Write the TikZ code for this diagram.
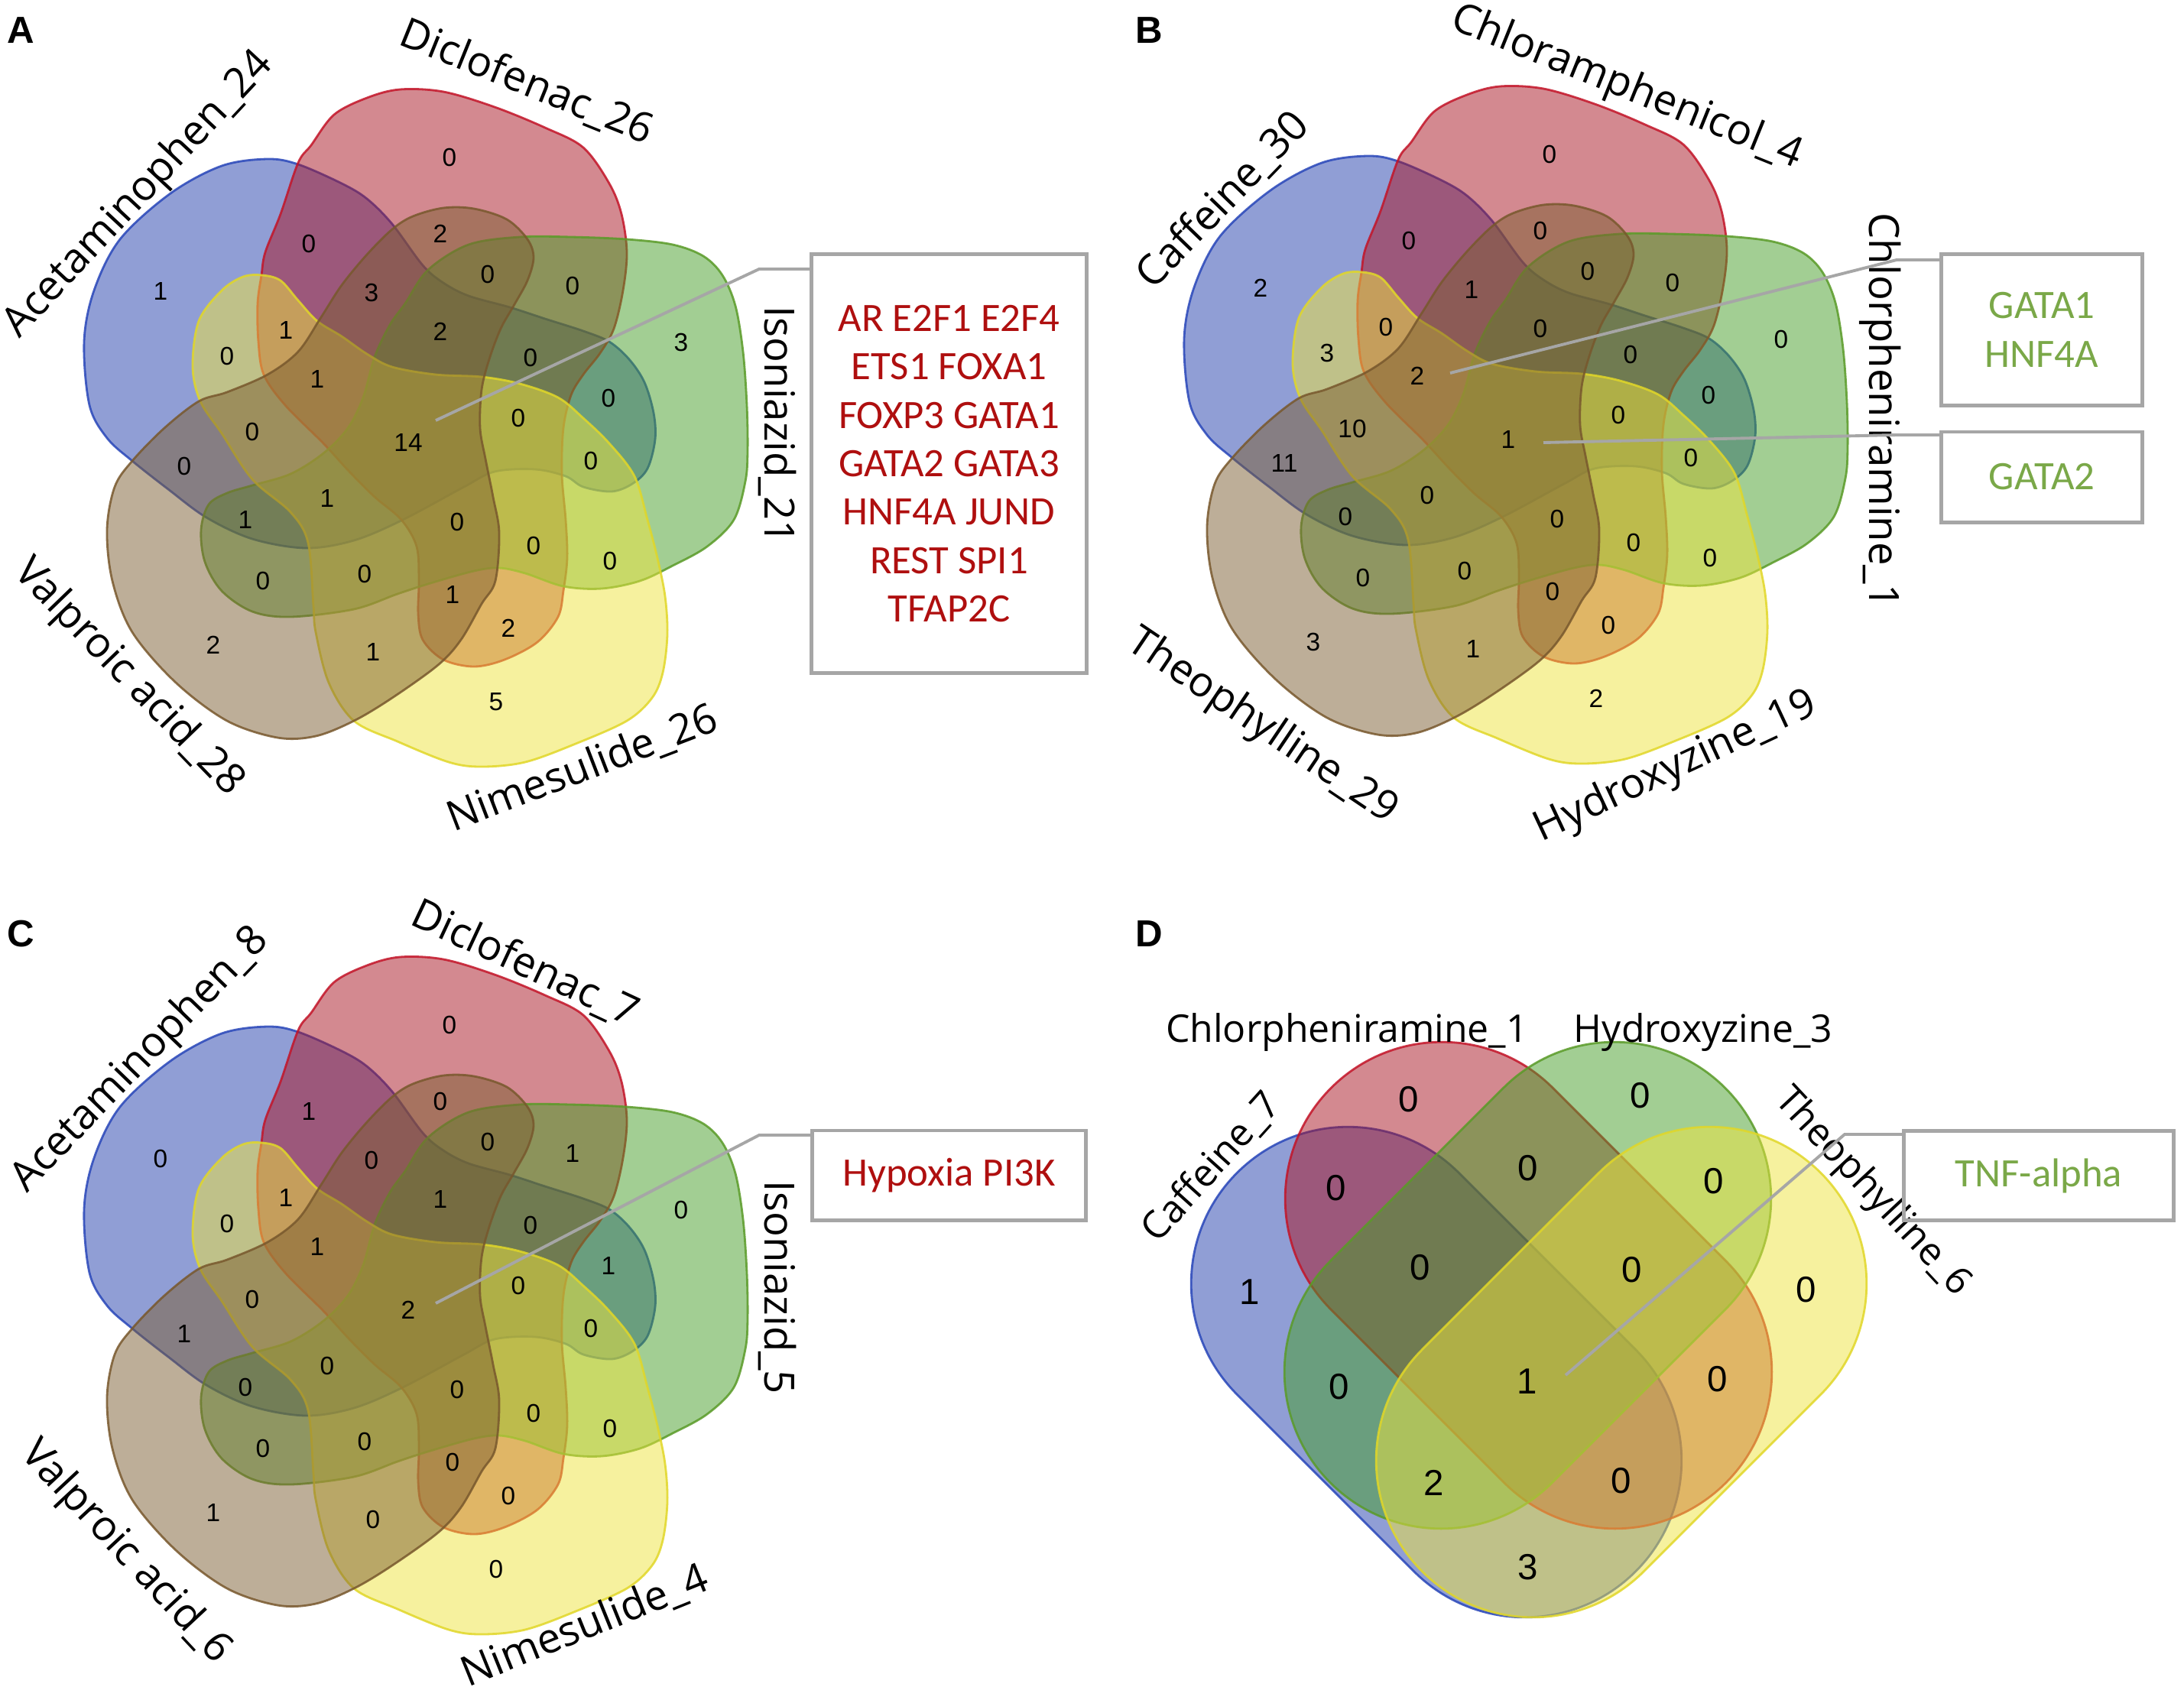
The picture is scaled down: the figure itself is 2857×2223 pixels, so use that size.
\documentclass[tikz,border=0pt]{standalone}
\usepackage{fontspec}
\setmainfont{Open Sans}
\newfontfamily\numfont{Liberation Sans}
\newfontfamily\boxfont{Carlito}
\usetikzlibrary{shapes.misc}
\definecolor{cblue}{RGB}{35,62,172}
\definecolor{cred}{RGB}{168,20,35}
\definecolor{cgreen}{RGB}{70,158,40}
\definecolor{cyellow}{RGB}{238,228,62}
\definecolor{cbrown}{RGB}{125,95,50}
\definecolor{eblue}{RGB}{40,70,185}
\definecolor{ered}{RGB}{195,20,40}
\definecolor{egreen}{RGB}{90,155,40}
\definecolor{eyellow}{RGB}{225,215,40}
\definecolor{ebrown}{RGB}{120,88,45}
\definecolor{lgray}{RGB}{166,166,166}
\definecolor{tred}{RGB}{175,15,15}
\definecolor{tgreen}{RGB}{122,168,72}
\begin{document}
\begin{tikzpicture}[x=0.01cm,y=-0.01cm,
  setst/.style={fill opacity=0.5, draw opacity=0.85, line width=0.8pt},
  fb/.style={setst, fill=cblue, draw=eblue},
  fr/.style={setst, fill=cred, draw=ered},
  fg/.style={setst, fill=cgreen, draw=egreen},
  fy/.style={setst, fill=cyellow, draw=eyellow},
  fw/.style={setst, fill=cbrown, draw=ebrown},
  shapeblue/.style={insert path={plot[smooth cycle, tension=0.55] coordinates {
    (350,208) (390,215) (447,240) (480,260) (513,293) (553,347) (580,370) (613,387)
    (667,402) (713,417) (763,433) (797,447) (823,470) (843,500) (855,540) (857,575)
    (847,613) (827,633) (800,643) (763,637) (740,623) (700,614) (647,617) (607,637)
    (527,680) (463,707) (400,717) (330,705) (270,677) (220,640) (173,603) (140,573)
    (117,530) (110,447) (123,380) (157,313) (223,253) (290,217)}}},
  shapered/.style={insert path={plot[smooth cycle, tension=0.55] coordinates {
    (437,150) (480,128) (523,117) (580,120) (647,140) (713,167) (763,193) (797,240)
    (813,280) (820,330) (815,380) (803,430) (785,462) (763,490) (747,517) (737,560)
    (735,620) (740,680) (742,730) (737,773) (730,807) (703,840) (660,863) (620,872)
    (580,863) (553,837) (547,803) (548,760) (545,715) (525,680) (490,650) (457,617)
    (423,580) (373,530) (345,490) (338,447) (337,397) (342,360) (347,330) (367,280)
    (390,213) (407,190)}}},
  shapegreen/.style={insert path={plot[smooth cycle, tension=0.55] coordinates {
    (297,645) (330,635) (380,620) (423,593) (455,560) (475,520) (490,467) (510,425)
    (530,397) (560,353) (613,320) (680,310) (747,310) (820,313) (880,320) (920,335)
    (945,360) (962,400) (972,460) (977,530) (978,590) (975,630) (960,680) (925,715)
    (880,740) (837,760) (787,770) (737,767) (687,750) (653,743) (620,747) (563,763)
    (520,777) (463,797) (380,807) (330,800) (290,773) (268,735) (263,693) (273,660)}}},
  shapeyellow/.style={insert path={plot[smooth cycle, tension=0.55] coordinates {
    (343,360) (367,367) (390,393) (415,420) (447,440) (480,463) (513,480) (570,490)
    (630,493) (680,502) (730,520) (763,547) (797,580) (830,623) (847,680) (860,730)
    (870,780) (873,830) (867,880) (853,913) (820,943) (753,973) (687,997) (630,1003)
    (587,997) (520,970) (463,943) (430,893) (413,827) (410,793) (403,710) (380,670)
    (330,627) (290,567) (262,525) (252,480) (260,420) (290,380) (318,362)}}},
  shapebrown/.style={insert path={plot[smooth cycle, tension=0.55] coordinates {
    (540,283) (580,272) (620,273) (663,287) (690,313) (698,337) (690,367) (672,400)
    (655,430) (640,470) (630,510) (628,560) (635,600) (645,650) (653,697) (648,760)
    (630,790) (603,837) (573,870) (513,913) (463,943) (413,963) (363,965) (297,943)
    (230,893) (173,827) (147,760) (140,693) (150,637) (173,603) (215,560) (260,525)
    (297,513) (350,490) (390,460) (420,415) (447,373) (480,333) (513,300)}}},
  num/.style={font=\numfont\fontsize{9.5}{11}\selectfont, inner sep=0pt},
  dnum/.style={font=\numfont\fontsize{13.5}{15}\selectfont, inner sep=0pt},
  lab/.style={font=\fontsize{15.5}{18}\selectfont, inner sep=0pt},
  dlab/.style={font=\fontsize{14.2}{17}\selectfont, inner sep=0pt},
  letter/.style={font=\numfont\bfseries\fontsize{14}{16}\selectfont, inner sep=0pt},
  boxst/.style={draw=lgray, line width=1.4pt, inner sep=0pt, align=center,
    font=\boxfont\fontsize{15}{18}\selectfont},
  conn/.style={draw=lgray, line width=1.1pt},
  pill/.style={rounded rectangle, inner sep=0pt, minimum height=4.1cm}
]
\useasboundingbox (0,0) rectangle (2857,2223);
\fill[white] (0,0) rectangle (2857,2223);

% five-set diagrams A, B, C
\foreach \ox/\oy in {0/0,1439/-4,0/1135}{
  \path[fb, shift={(\ox,\oy)}] [shapeblue];
  \path[fr, shift={(\ox,\oy)}] [shapered];
  \path[fg, shift={(\ox,\oy)}] [shapegreen];
  \path[fy, shift={(\ox,\oy)}] [shapeyellow];
  \path[fw, shift={(\ox,\oy)}] [shapebrown];
}

\foreach \px/\py/\va/\vb/\vc [count=\i] in {
  588/206/0/0/0, 576/306/2/0/0, 404/319/0/0/1, 486/383/3/1/0, 638/359/0/0/0,
  749/374/0/0/1, 210/381/1/2/0, 374/432/1/0/1, 576/434/2/0/1, 694/468/0/0/0,
  891/448/3/0/0, 297/466/0/3/0, 415/496/1/2/1, 796/521/0/0/1, 330/565/0/10/0,
  534/579/14/1/2, 678/547/0/0/0, 241/610/0/11/1, 773/603/0/0/0, 428/652/1/0/0,
  321/680/1/0/0, 598/683/0/0/0, 698/714/0/0/0, 798/734/0/0/0, 344/760/0/0/0,
  477/751/0/0/0, 592/778/1/0/0, 665/822/2/0/0, 279/844/2/3/1, 488/853/1/1/0,
  649/918/5/2/0}{
  \node[num] (na\i) at (\px,\py) {\va};
  \node[num] (nb\i) at (\px+1439,\py-4) {\vb};
  \node[num] (nc\i) at (\px,\py+1135) {\vc};
}

% four-set diagram D
\node[pill, fb, minimum width=7.37cm, rotate=-45] (dblue) at (1879,1795) {};
\node[pill, fr, minimum width=7.30cm, rotate=-45] (dred) at (1999.5,1681.5) {};
\node[pill, fg, minimum width=7.30cm, rotate=45] (dgreen) at (1998.5,1681.5) {};
\node[pill, fy, minimum width=7.37cm, rotate=45] (dyellow) at (2121,1795) {};

\foreach \px/\py/\v [count=\i] in {
  1843/1438/0, 2146/1433/0, 1748/1554/0, 1999/1528/0, 2242/1545/0,
  1635/1690/1, 1858/1658/0, 2135/1661/0, 2363/1687/0, 1752/1814/0,
  1998/1807/1, 2247/1804/0, 1876/1940/2, 2121/1937/0, 1999/2050/3}{
  \node[dnum] (nd\i) at (\px,\py) {\v};
}

% panel letters
\node[letter] (la) at (27,40) {A};
\node[letter] (lb) at (1503,40) {B};
\node[letter] (lc) at (27,1222) {C};
\node[letter] (ld) at (1503,1222) {D};

% set labels A
\node[lab, rotate=47] (tA1) at (182,255) {Acetaminophen\_24};
\node[lab, rotate=-22] (tA2) at (689,108) {Diclofenac\_26};
\node[lab, rotate=-90] (tA3) at (1017,556) {Isoniazid\_21};
\node[lab, rotate=21] (tA4) at (762,1006) {Nimesulide\_26};
\node[lab, rotate=-46] (tA5) at (168,887) {Valproic acid\_28};
% set labels B
\node[lab, rotate=46] (tB1) at (1600,262) {Caffeine\_30};
\node[lab, rotate=-22] (tB2) at (2128,115) {Chloramphenicol\_4};
\node[lab, rotate=-90] (tB3) at (2460,537) {Chlorpheniramine\_1};
\node[lab, rotate=25] (tB4) at (2192,1004) {Hydroxyzine\_19};
\node[lab, rotate=-34] (tB5) at (1651,951) {Theophylline\_29};
% set labels C
\node[lab, rotate=46] (tC1) at (184,1387) {Acetaminophen\_8};
\node[lab, rotate=-25] (tC2) at (687,1261) {Diclofenac\_7};
\node[lab, rotate=-90] (tC3) at (1017,1684) {Isoniazid\_5};
\node[lab, rotate=22] (tC4) at (765,2128) {Nimesulide\_4};
\node[lab, rotate=-47] (tC5) at (164,2031) {Valproic acid\_6};
% set labels D
\node[dlab, anchor=base] (tD1) at (1762,1363) {Chlorpheniramine\_1};
\node[dlab, anchor=base] (tD2) at (2228,1363) {Hydroxyzine\_3};
\node[dlab, rotate=48] (tD3) at (1585,1527) {Caffeine\_7};
\node[dlab, rotate=-47] (tD4) at (2449,1560) {Theophylline\_6};

% boxes
\node[boxst, text=tred, minimum width=3.59cm, minimum height=5.47cm] (boxA) at (1241.5,606.5)
  {AR E2F1 E2F4\\ETS1 FOXA1\\FOXP3 GATA1\\GATA2 GATA3\\HNF4A JUND\\REST SPI1\\TFAP2C};
\node[boxst, text=tgreen, minimum width=2.62cm, minimum height=1.97cm] (boxB1) at (2671,431.5)
  {GATA1\\HNF4A};
\node[boxst, text=tgreen, minimum width=2.62cm, minimum height=1.18cm] (boxB2) at (2671,624)
  {GATA2};
\node[boxst, text=tred, minimum width=3.57cm, minimum height=1.17cm] (boxC) at (1241.5,1537.5)
  {Hypoxia PI3K};
\node[boxst, text=tgreen, minimum width=3.53cm, minimum height=1.17cm] (boxD) at (2667,1538)
  {TNF-alpha};

% connectors
\coordinate (cA0) at (570,550);
\coordinate (cA1) at (993,352);
\draw[conn] (cA0) -- (cA1) -- (cA1 -| boxA.west);
\coordinate (cB0) at (1897,488);
\coordinate (cB1) at (2481,340);
\draw[conn] (cB0) -- (cB1) -- (cB1 -| boxB1.west);
\coordinate (cB2) at (2019,579);
\coordinate (cB3) at (2481,569);
\draw[conn] (cB2) -- (cB3) -- (cB3 -| boxB2.west);
\coordinate (cC0) at (570,1705);
\coordinate (cC1) at (993,1485);
\draw[conn] (cC0) -- (cC1) -- (cC1 -| boxC.west);
\coordinate (cD0) at (2048,1799);
\coordinate (cD1) at (2413,1484);
\draw[conn] (cD0) -- (cD1) -- (cD1 -| boxD.west);
\end{tikzpicture}
\end{document}
